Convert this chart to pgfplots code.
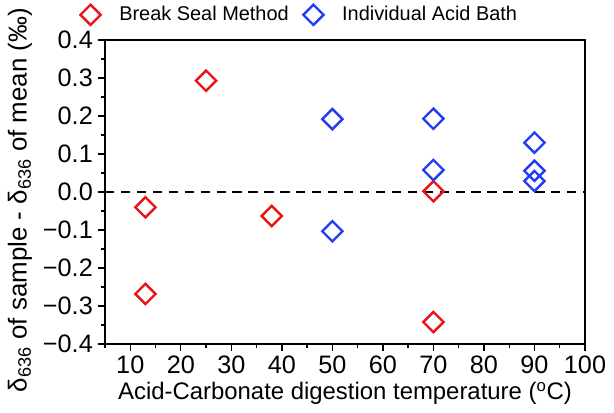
\documentclass[border=0pt]{standalone}
\usepackage{pgfplots}
\pgfplotsset{compat=1.18}
\usepackage{fontspec}
\setmainfont{Liberation Sans}
\definecolor{myred}{RGB}{235,20,20}
\definecolor{myblue}{RGB}{35,60,245}
\begin{document}
\fontsize{18}{21}\selectfont
\begin{tikzpicture}
\begin{axis}[
  width=361.5pt, height=229pt, scale only axis,
  xmin=5, xmax=100, ymin=-0.4, ymax=0.4,
  xtick={10,20,...,100}, minor xtick={5,15,...,95},
  ytick={-0.4,-0.3,...,0.4},
  yticklabels={−0.4,−0.3,−0.2,−0.1,0.0,0.1,0.2,0.3,0.4},
  minor ytick={-0.35,-0.25,...,0.35},
  tick align=outside, tick pos=left,
  major tick length=5pt, minor tick length=3pt,
  every tick/.style={black, line width=1pt},
  axis line style={line width=1.2pt},
  /pgf/number format/assume math mode=true,
  tick label style={font=\fontsize{19}{22}\selectfont},
  xticklabel style={yshift=2pt},
  yticklabel style={xshift=2pt},
  xlabel style={font=\fontsize{18}{22}\selectfont, yshift=6pt},
  ylabel style={font=\fontsize{19.5}{24}\selectfont, yshift=-4pt, xshift=-6pt},
  xlabel={Acid-Carbonate digestion temperature (\textsuperscript{o}C)},
  ylabel={δ\textsubscript{636} of sample - δ\textsubscript{636} of mean (‰)},
  legend style={at={(-0.06,1.035)}, anchor=south west, draw=none, fill=none,
    legend columns=2, font=\fontsize{15}{18}\selectfont,
    /tikz/every even column/.append style={column sep=9pt},
    /tikz/every odd column/.append style={column sep=12pt}},
  legend cell align=left,
  clip=false,
]
\addplot[myred, only marks, mark=square, mark options={rotate=45, line width=1.8pt}, mark size=5.4pt]
  coordinates {(13,-0.04) (13,-0.268) (25,0.293) (38,-0.063) (70,0.002) (70,-0.342)};
\addlegendentry{Break Seal Method}
\addplot[myblue, only marks, mark=square, mark options={rotate=45, line width=1.8pt}, mark size=5.4pt]
  coordinates {(50,0.192) (50,-0.103) (70,0.193) (70,0.058) (90,0.13) (90,0.056) (90,0.029)};
\addlegendentry{Individual Acid Bath}
\addplot[black, dashed, line width=1.6pt, dash pattern=on 7pt off 5pt, forget plot] coordinates {(5,0) (100,0)};
\end{axis}
\end{tikzpicture}
\end{document}
